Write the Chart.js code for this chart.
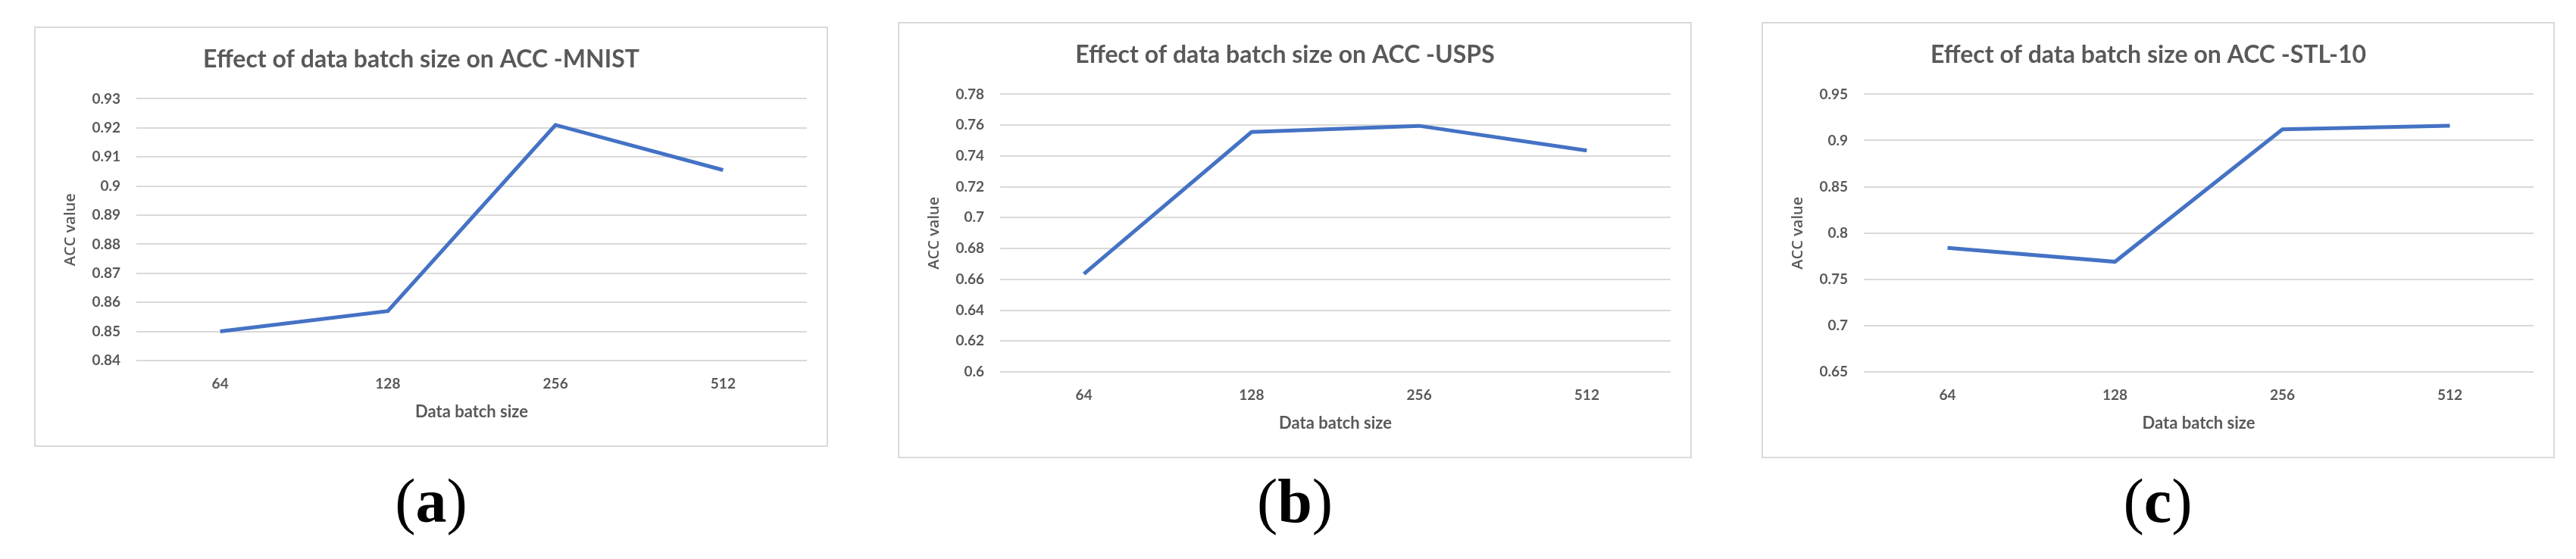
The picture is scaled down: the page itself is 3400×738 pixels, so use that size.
<!DOCTYPE html>
<html>
<head>
<meta charset="utf-8">
<script src="https://cdn.jsdelivr.net/npm/chart.js@4.4.1/dist/chart.umd.min.js"></script>
<style>
  body { margin: 0; background: #fff; width: 3400px; height: 738px; position: relative; overflow: hidden; }
  .panel { position: absolute; box-sizing: border-box; border: 2px solid #d9d9d9; background: #fff; }
  .panel canvas { display: block; }
  .caption { position: absolute; width: 300px; text-align: center; font-family: 'Liberation Serif', 'DejaVu Serif', serif; font-size: 82px; line-height: 82px; color: #000; }
  .caption b { font-weight: bold; }
</style>
</head>
<body>
<div class="panel" id="boxA" style="left:45px;top:35px;width:1048px;height:555px;"><canvas id="chartA" width="1044" height="551"></canvas></div>
<div class="panel" id="boxB" style="left:1185px;top:29px;width:1048px;height:576px;"><canvas id="chartB" width="1044" height="572"></canvas></div>
<div class="panel" id="boxC" style="left:2325px;top:29px;width:1047px;height:576px;"><canvas id="chartC" width="1043" height="572"></canvas></div>
<div class="caption" style="left:419px;top:621px;">(<b>a</b>)</div>
<div class="caption" style="left:1559px;top:621px;">(<b>b</b>)</div>
<div class="caption" style="left:2698px;top:621px;">(<b>c</b>)</div>
<script>
// values
const batchSizes = ['64', '128', '256', '512'];

const accMnist = [0.850, 0.857, 0.921, 0.9055];
const accUsps = [0.6635, 0.7555, 0.7595, 0.7435];
const accStl10 = [0.784, 0.769, 0.912, 0.916];

const ticksMnist = [0.84, 0.85, 0.86, 0.87, 0.88, 0.89, 0.9, 0.91, 0.92, 0.93];
const ticksUsps = [0.6, 0.62, 0.64, 0.66, 0.68, 0.7, 0.72, 0.74, 0.76, 0.78];
const ticksStl10 = [0.65, 0.7, 0.75, 0.8, 0.85, 0.9, 0.95];

const textColor = '#595959';
const gridColor = '#d9d9d9';
const lineColor = '#4472c4';

const makeChart = (canvasId, title, values, ticks) => {
    const ctx = document.getElementById(canvasId);
    const config = {
        type: 'line',
        data: {
            labels: batchSizes,
            datasets: [{
                data: values,
                borderColor: lineColor,
                borderWidth: 5,
                pointRadius: 0,
                tension: 0,
                fill: false,
            }]
        },
        options: {
            responsive: false,
            animation: false,
            devicePixelRatio: 1,
            layout: { padding: { left: 0, right: 26, top: 0, bottom: 0 } },
            plugins: {
                legend: { display: false },
                tooltip: { enabled: false },
                title: {
                    display: true,
                    text: title,
                    color: textColor,
                    font: { family: 'Lato', size: 32, weight: 'bold' },
                    padding: { top: 22, bottom: 33 },
                },
            },
            scales: {
                x: {
                    type: 'category',
                    offset: true,
                    grid: { display: false, drawTicks: false },
                    border: { display: false },
                    ticks: {
                        color: textColor,
                        font: { family: 'Lato', size: 19, weight: 'bold' },
                        padding: 19,
                        maxRotation: 0,
                    },
                    title: {
                        display: true,
                        text: 'Data batch size',
                        color: textColor,
                        font: { family: 'Lato', size: 22, weight: 'bold' },
                        padding: { top: 0, bottom: 31 },
                    },
                    afterFit: (scale) => { scale.height = 112; },
                },
                y: {
                    min: ticks[0],
                    max: ticks[ticks.length - 1],
                    afterBuildTicks: (scale) => {
                        scale.ticks = ticks.map(v => ({ value: v }));
                    },
                    grid: { color: gridColor, lineWidth: 2, drawTicks: false },
                    border: { display: false },
                    ticks: {
                        color: textColor,
                        font: { family: 'Lato', size: 19, weight: 'bold' },
                        padding: 21,
                        callback: (value) => String(value),
                    },
                    title: {
                        display: true,
                        text: 'ACC value',
                        color: textColor,
                        font: { family: 'Open Sans', size: 20, weight: '600' },
                        padding: { top: 34, bottom: 0 },
                    },
                    afterFit: (scale) => { scale.width = 133; },
                },
            },
        },
    };
    return new Chart(ctx, config);
}

makeChart('chartA', 'Effect of data batch size on ACC -MNIST', accMnist, ticksMnist);
makeChart('chartB', 'Effect of data batch size on ACC -USPS', accUsps, ticksUsps);
makeChart('chartC', 'Effect of data batch size on ACC -STL-10', accStl10, ticksStl10);
</script>
</body>
</html>
